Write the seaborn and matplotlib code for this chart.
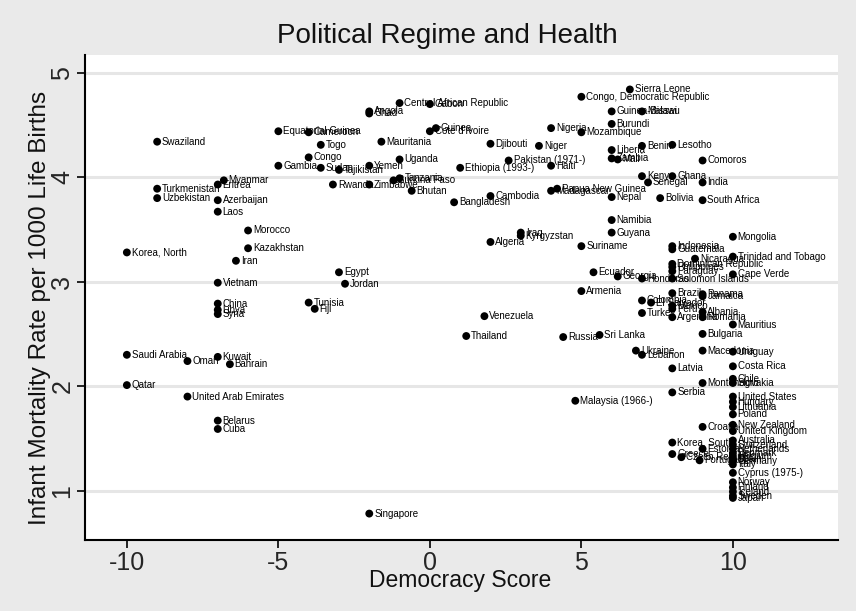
import matplotlib
matplotlib.use("Agg")
import matplotlib.pyplot as plt
import pandas as pd
import seaborn as sns

# --- data ---
countries = [
    "Swaziland", "Equatorial Guinea", "Cameroon", "Togo", "Congo", "Gambia",
    "Sudan", "Tajikistan", "Myanmar", "Eritrea", "Turkmenistan", "Uzbekistan",
    "Azerbaijan", "Laos", "Morocco", "Kazakhstan", "Korea, North", "Iran",
    "Vietnam", "Egypt", "Jordan", "China", "Libya", "Syria", "Tunisia", "Fiji",
    "Saudi Arabia", "Oman", "Kuwait", "Bahrain", "Qatar", "United Arab Emirates",
    "Belarus", "Cuba", "Singapore", "Central African Republic", "Gabon",
    "Angola", "Chad", "Mauritania", "Guinea", "Cote d'Ivoire", "Uganda",
    "Yemen", "Rwanda", "Zimbabwe", "Tanzania", "Burkina Faso", "Bhutan",
    "Bangladesh", "Ethiopia (1993-)", "Djibouti", "Pakistan (1971-)", "Haiti",
    "Niger", "Nigeria", "Cambodia", "Madagascar", "Papua New Guinea",
    "Sierra Leone", "Congo, Democratic Republic", "Guinea-Bissau", "Malawi",
    "Burundi", "Mozambique", "Liberia", "Benin", "Lesotho", "Zambia", "Mali",
    "Comoros", "Kenya", "Ghana", "Senegal", "India", "Nepal", "Bolivia",
    "South Africa", "Namibia", "Guyana", "Iraq", "Kyrgyzstan", "Algeria",
    "Suriname", "Mongolia", "Indonesia", "Guatemala", "Nicaragua",
    "Trinidad and Tobago", "Dominican Republic", "Philippines", "Paraguay",
    "Cape Verde", "Solomon Islands", "Ecuador", "Georgia", "Honduras",
    "Armenia", "Brazil", "Panama", "Jamaica", "Colombia", "El Salvador",
    "Mexico", "Peru", "Albania", "Romania", "Turkey", "Argentina", "Mauritius",
    "Bulgaria", "Venezuela", "Thailand", "Russia", "Sri Lanka", "Ukraine",
    "Lebanon", "Macedonia", "Uruguay", "Latvia", "Costa Rica", "Chile",
    "Montenegro", "Slovakia", "Serbia", "Malaysia (1966-)", "United States",
    "Hungary", "Lithuania", "Poland", "Croatia", "New Zealand",
    "United Kingdom", "Australia", "Switzerland", "Netherlands", "Korea, South",
    "Estonia", "Greece", "Czech Republic", "Portugal", "Denmark", "Belgium",
    "Spain", "Germany", "Italy", "Cyprus (1975-)", "Norway", "Finland",
    "Iceland", "Sweden", "Japan",
]

democracy = [
    -9, -5, -4, -3.6, -4, -5,
    -3.6, -3, -6.8, -7, -9, -9,
    -7, -7, -6, -6, -10, -6.4,
    -7, -3, -2.8, -7, -7, -7, -4, -3.8,
    -10, -8, -7, -6.6, -10, -8,
    -7, -7, -2, -1, 0,
    -2, -2, -1.6, 0.2, 0, -1,
    -2, -3.2, -2, -1, -1.2, -0.6,
    0.8, 1, 2, 2.6, 4,
    3.6, 4, 2, 4, 4.2,
    6.6, 5, 6, 7,
    6, 5, 6, 7, 8, 6, 6.2,
    9, 7, 8, 7.2, 9, 6, 7.6,
    9, 6, 6, 3, 3, 2,
    5, 10, 8, 8, 8.75,
    10, 8, 8, 8,
    10, 8, 5.4, 6.2, 7,
    5, 8, 9, 9, 7, 7.3,
    8, 8, 9, 9, 7, 8, 10,
    9, 1.8, 1.2, 4.4, 5.6, 6.8,
    7, 9, 10, 8, 10, 10,
    9, 10, 8, 4.8, 10,
    10, 10, 10, 9, 10,
    10, 10, 10, 10, 8,
    9, 8, 8.3, 8.9, 10, 10,
    10, 10, 10, 10, 10, 10,
    10, 10, 10,
]

infant_mortality = [
    4.34, 4.44, 4.43, 4.31, 4.19, 4.11,
    4.09, 4.07, 3.97, 3.93, 3.89, 3.80,
    3.78, 3.67, 3.49, 3.32, 3.28, 3.20,
    2.99, 3.09, 2.98, 2.79, 2.73, 2.69, 2.80, 2.74,
    2.30, 2.24, 2.28, 2.21, 2.01, 1.90,
    1.67, 1.59, 0.78, 4.71, 4.70,
    4.63, 4.61, 4.34, 4.47, 4.44, 4.17,
    4.11, 3.93, 3.93, 3.99, 3.97, 3.87,
    3.76, 4.09, 4.32, 4.16, 4.11,
    4.30, 4.47, 3.82, 3.87, 3.89,
    4.84, 4.77, 4.63, 4.63,
    4.51, 4.43, 4.26, 4.30, 4.31, 4.18, 4.17,
    4.16, 4.01, 4.01, 3.95, 3.95, 3.81, 3.80,
    3.78, 3.59, 3.47, 3.47, 3.44, 3.38,
    3.34, 3.43, 3.34, 3.31, 3.22,
    3.24, 3.17, 3.14, 3.10,
    3.07, 3.03, 3.09, 3.05, 3.03,
    2.91, 2.89, 2.88, 2.86, 2.82, 2.80,
    2.77, 2.74, 2.71, 2.66, 2.70, 2.66, 2.59,
    2.50, 2.67, 2.48, 2.47, 2.49, 2.34,
    2.30, 2.34, 2.33, 2.17, 2.19, 2.07,
    2.03, 2.03, 1.94, 1.86, 1.90,
    1.85, 1.80, 1.73, 1.61, 1.63,
    1.57, 1.48, 1.44, 1.40, 1.46,
    1.40, 1.35, 1.32, 1.29, 1.36, 1.33,
    1.30, 1.28, 1.25, 1.17, 1.08, 1.03,
    0.99, 0.95, 0.93,
]

x_ticks = [-10, -5, 0, 5, 10]
y_ticks = [1, 2, 3, 4, 5]

df = pd.DataFrame({"country": countries, "democ": democracy, "imr": infant_mortality})

# --- style ---
sns.set_theme(style="white")
plt.rcParams["font.family"] = ["Liberation Sans", "DejaVu Sans"]

fig = plt.figure(figsize=(8.56, 6.11), dpi=100, facecolor="#eaeaea")
ax = fig.add_axes([0.099, 0.116, 0.88, 0.794])
ax.set_facecolor("white")

sns.scatterplot(data=df, x="democ", y="imr", color="black", s=32,
                edgecolor="none", ax=ax, zorder=3)

# country labels to the right of each marker
for _, row in df.iterrows():
    ax.annotate(row["country"], (row["democ"], row["imr"]),
                xytext=(3.5, 0), textcoords="offset points",
                ha="left", va="center", fontsize=7, color="black", zorder=4)

ax.set_xlim(-11.39, 13.47)
ax.set_ylim(0.526, 5.17)
ax.set_xticks(x_ticks)
ax.set_yticks(y_ticks)
ax.set_xticklabels([str(t) for t in x_ticks], fontsize=18)
ax.set_yticklabels([str(t) for t in y_ticks], fontsize=18, rotation=90, va="center")
ax.tick_params(axis="both", direction="out", length=6, width=1.2, color="black",
               left=True, bottom=True, pad=1.5)

ax.yaxis.grid(True, color="#e6e6e6", linewidth=2.2)
ax.xaxis.grid(False)
ax.set_axisbelow(True)

for side in ["top", "right"]:
    ax.spines[side].set_visible(False)
for side in ["left", "bottom"]:
    ax.spines[side].set_color("black")
    ax.spines[side].set_linewidth(1.5)

ax.set_xlabel("Democracy Score", fontsize=16.5, color="#111111", va="center")
ax.xaxis.set_label_coords(0.498, -0.083)
ax.set_ylabel("Infant Mortality Rate per 1000 Life Births", fontsize=17.5,
              color="#111111", va="center")
ax.yaxis.set_label_coords(-0.06, 0.478)
fig.text(447 / 856, 1 - 36 / 611, "Political Regime and Health", fontsize=20,
         ha="center", va="center", color="#111111")

fig.savefig("out.png", dpi=100, facecolor=fig.get_facecolor())
